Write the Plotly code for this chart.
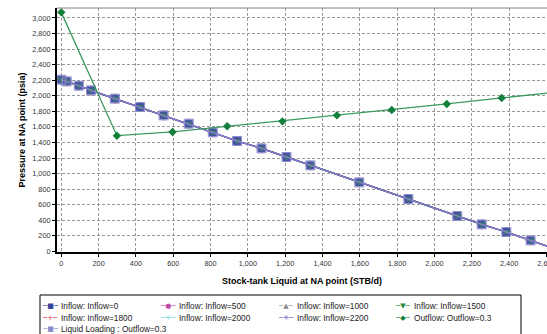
import plotly.graph_objects as go

# ---- data ----
ipr_q = [0, 29, 94, 159, 287, 422, 548, 683, 812, 942, 1073, 1207, 1335, 1597, 1860, 2122, 2253, 2385, 2515, 2646]
ipr_p = [2207, 2185, 2130, 2069, 1963, 1856, 1748, 1641, 1530, 1419, 1324, 1213, 1105, 887, 673, 455, 347, 249, 141, 32]

out_q = [0, 298, 596, 889, 1185, 1477, 1771, 2066, 2360, 2655]
out_p = [3072, 1487, 1535, 1607, 1671, 1748, 1817, 1895, 1972, 2047]

inflow_names = ["Inflow: Inflow=0", "Inflow: Inflow=500", "Inflow: Inflow=1000", "Inflow: Inflow=1500",
                "Inflow: Inflow=1800", "Inflow: Inflow=2000", "Inflow: Inflow=2200"]
outflow_name = "Outflow: Outflow=0.3"
loading_name = "Liquid Loading : Outflow=0.3"
legend_order = inflow_names + [outflow_name, loading_name]

x_ticks = list(range(0, 2601, 200))
y_ticks = list(range(0, 3001, 200))

# ---- styles ----
styles = {
    "Inflow: Inflow=0":    dict(color="#34409a", symbol="square", size=7, glyph="■"),
    "Inflow: Inflow=500":  dict(color="#c04aa8", symbol="circle", size=6, glyph="●"),
    "Inflow: Inflow=1000": dict(color="#8a8a8a", symbol="triangle-up", size=6, glyph="▲"),
    "Inflow: Inflow=1500": dict(color="#1f8a3c", symbol="triangle-down", size=6, glyph="▼"),
    "Inflow: Inflow=1800": dict(color="#e8283a", symbol="cross-thin", size=7, glyph="+"),
    "Inflow: Inflow=2000": dict(color="#70d0e0", symbol="asterisk", size=7, glyph="✳"),
    "Inflow: Inflow=2200": dict(color="#7050c0", symbol="asterisk", size=7, glyph="✳"),
    outflow_name:          dict(color="#12803a", symbol="diamond", size=6.5, glyph="◆"),
    loading_name:          dict(color="#8c8ccc", symbol="square", size=9, glyph="■"),
}
draw_order = ["Inflow: Inflow=500", "Inflow: Inflow=1000", "Inflow: Inflow=1800", "Inflow: Inflow=2000",
              "Inflow: Inflow=2200", "Inflow: Inflow=0", "Inflow: Inflow=1500"]

fig = go.Figure()
for n in draw_order:
    s = styles[n]
    fig.add_trace(go.Scatter(
        x=ipr_q, y=ipr_p, name=n, mode="lines+markers", showlegend=False,
        line=dict(color=s["color"], width=1.2),
        marker=dict(symbol=s["symbol"], size=s["size"], color=s["color"],
                    line=dict(color=s["color"], width=1)),
        opacity=0.7 if n == "Inflow: Inflow=1500" else 1.0,
    ))

fig.add_trace(go.Scatter(
    x=ipr_q, y=ipr_p, name=loading_name, mode="lines+markers", showlegend=False,
    line=dict(color="#8a7cd0", width=1.5),
    marker=dict(symbol="square", size=9, color="rgba(140,140,205,0.22)",
                line=dict(color="#8c8ccc", width=1)),
))

fig.add_trace(go.Scatter(
    x=out_q, y=out_p, name=outflow_name, mode="lines+markers", showlegend=False,
    line=dict(color="#3a9a5e", width=1.3),
    marker=dict(symbol="diamond", size=6.5, color="#12803a"),
))

font_family = "Liberation Sans, Arial, sans-serif"
axis_common = dict(
    showgrid=True, gridcolor="#9a9a9a", gridwidth=1, griddash="3px,2px",
    showline=True, linecolor="black", linewidth=2,
    ticks="outside", ticklen=3, tickcolor="black", tickwidth=1,
    tickfont=dict(family=font_family, size=7.3, color="#333333"),
    tickformat=",d", zeroline=False, ticklabeloverflow="allow",
)

# plot-area geometry (px) used to place the legend box
L, T, W, H = 57, 8, 490, 244
def px_x(p):
    return (p - L) / W
def px_y(p):
    return (T + H - p) / H

col_x = [42, 160, 278, 395]
row_y = [306, 317.5, 329]
annotations = []
for i, n in enumerate(legend_order):
    r, c = divmod(i, 4)
    s = styles[n]
    annotations.append(dict(
        xref="paper", yref="paper", x=px_x(col_x[c] + 8), y=px_y(row_y[r]),
        xanchor="center", yanchor="middle", showarrow=False,
        text=f'<span style="color:{s["color"]}">─{s["glyph"]}─</span>',
        font=dict(family="DejaVu Sans", size=7, color=s["color"]),
    ))
    annotations.append(dict(
        xref="paper", yref="paper", x=px_x(col_x[c] + 17), y=px_y(row_y[r]),
        xanchor="left", yanchor="middle", showarrow=False, text=n,
        font=dict(family=font_family, size=8.3, color="#222222"),
    ))

fig.update_layout(
    width=547, height=334,
    margin=dict(l=L, r=547 - L - W, t=T, b=334 - T - H, autoexpand=False),
    paper_bgcolor="white", plot_bgcolor="white", showlegend=False,
    font=dict(family=font_family, color="black"),
    xaxis=dict(range=[-23, 2603], tickvals=x_ticks, **axis_common,
               title=dict(text="Stock-tank Liquid at NA point (STB/d)", standoff=11,
                          font=dict(family=font_family, size=9, weight="bold", color="black"))),
    yaxis=dict(range=[-8, 3128], tickvals=y_ticks, **axis_common,
               title=dict(text="Pressure at NA point (psia)", standoff=5,
                          font=dict(family=font_family, size=9, weight="bold", color="black"))),
    annotations=annotations,
    shapes=[
        dict(type="line", xref="paper", yref="paper", x0=0, x1=1, y0=1, y1=1,
             line=dict(color="#808080", width=1)),
        dict(type="rect", xref="paper", yref="paper", x0=px_x(40), x1=px_x(521),
             y0=px_y(340), y1=px_y(295), line=dict(color="black", width=1),
             fillcolor="white", layer="below"),
    ],
)

fig.write_html("out.html", config={"displayModeBar": False},
               post_script="document.body.style.margin='0px';document.body.style.overflow='hidden';")
